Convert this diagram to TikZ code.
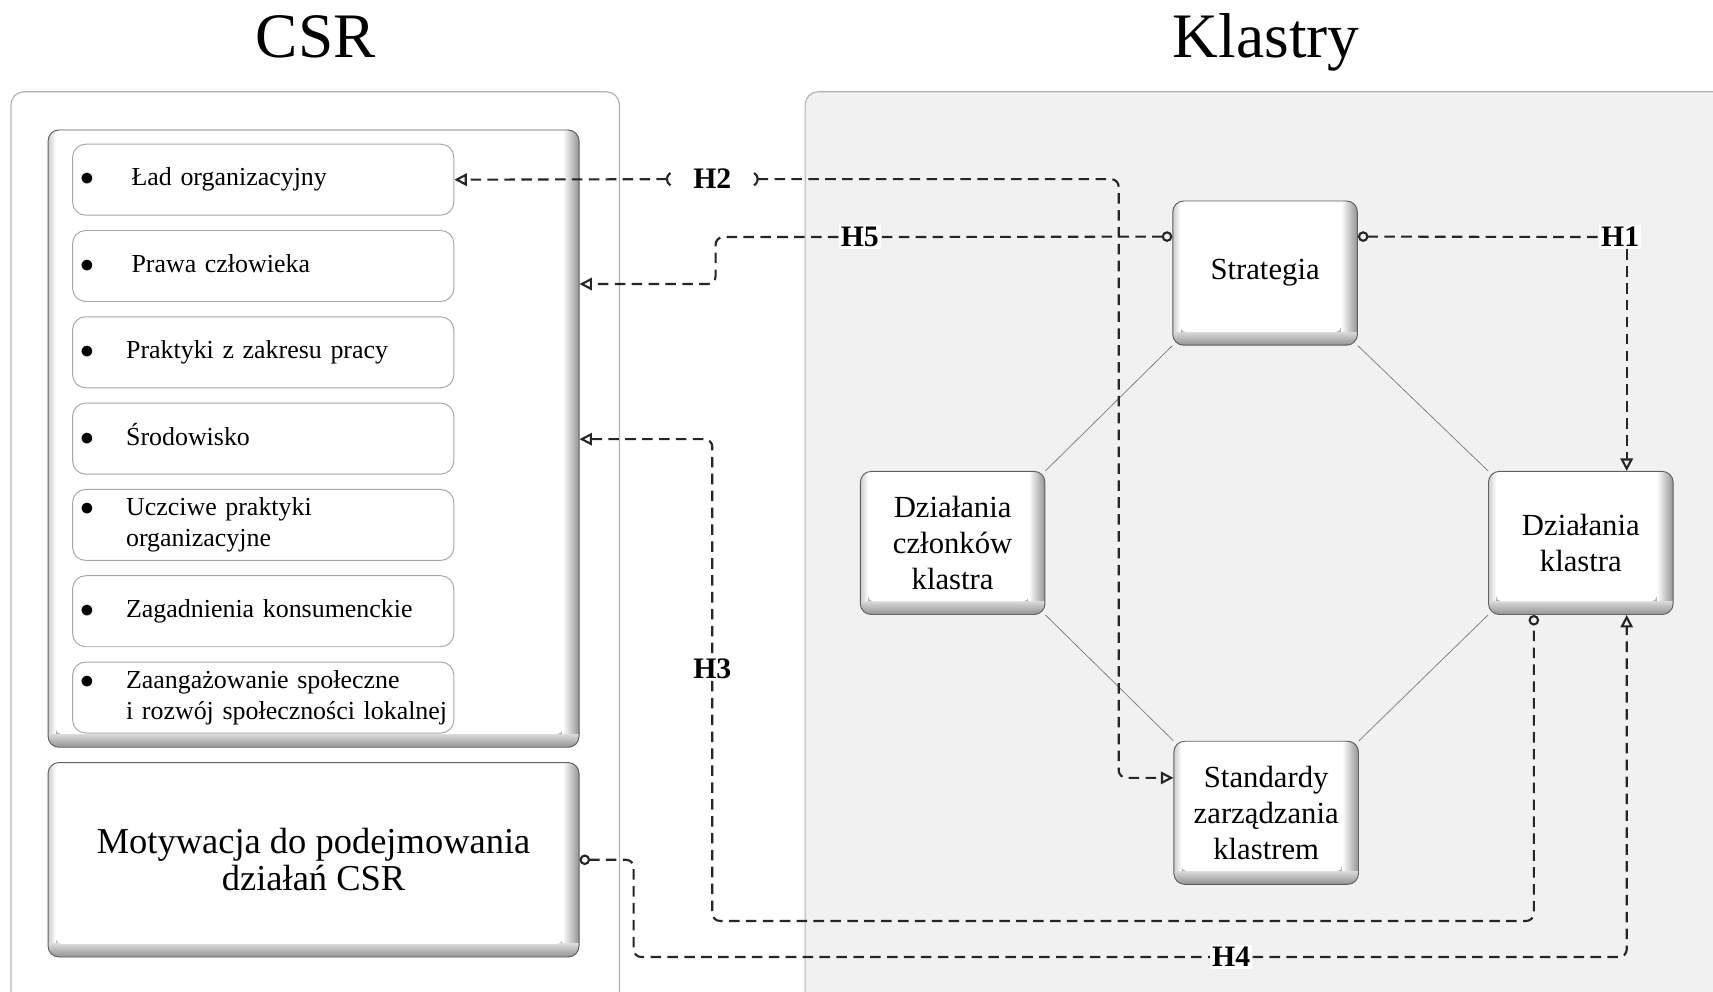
\documentclass[tikz,border=0pt]{standalone}
\usepackage{fontspec}
\setmainfont{Liberation Serif}
\usetikzlibrary{arrows.meta,calc}
\definecolor{klbg}{HTML}{F1F1F1}
\newcommand{\itm}[2][8.4mm]{\makebox[#1][l]{$\bullet$}\begin{tabular}[t]{@{}l@{}}#2\end{tabular}}
\tikzset{
  hyparr/.tip={Triangle[open,length=6.5pt,width=6.5pt]},
  hypcirc/.tip={Circle[open,length=5.5pt]},
  bevel/.style={draw=gray!75!black, line width=.5pt, rounded corners=2mm, fill=gray!65, align=center,
    font=\fontsize{16}{18.8}\selectfont,
    path picture={
      \coordinate (pA) at (path picture bounding box.south west);
      \coordinate (pB) at (path picture bounding box.north east);
      \shade[sharp corners, left color=white, right color=gray!85] ($(pB|-pA)+(-3mm,2.4mm)$) rectangle (pB);
      \shade[sharp corners, left color=gray!40, right color=white] ($(pA)+(0,2.4mm)$) rectangle ($(pA|-pB)+(1.4mm,0)$);
      \shade[sharp corners, top color=gray!30, bottom color=gray!85] (pA) rectangle ($(pB|-pA)+(0,2.4mm)$);
      \fill[white, rounded corners=1mm] ($(pA)+(1.4mm,2.4mm)$) rectangle ($(pB)+(-3mm,2mm)$);
    }},
  csritem/.style={draw=gray!70, line width=.5pt, rounded corners=2.4mm, fill=white, anchor=west,
    minimum width=69.8mm, minimum height=13mm, text width=67mm, inner xsep=1.4mm, inner ysep=0pt,
    align=left, font=\fontsize{13.5}{16}\selectfont},
  frame/.style={draw=gray!60, line width=.6pt, rounded corners=2.4mm},
  link/.style={draw=gray, line width=.4pt},
  hyp/.style={draw=black!85, line width=1.1pt, dash pattern=on 5.5pt off 3.3pt, rounded corners=1.4mm},
  hlab/.style={fill=white, inner sep=1pt, font=\fontsize{15.5}{18}\selectfont\bfseries},
  ttl/.style={anchor=base, font=\fontsize{33}{40}\selectfont}
}
\begin{document}
\begin{tikzpicture}[x=0.2mm, y=0.2mm]
\useasboundingbox (0,0) rectangle (1568,908);
\draw[frame, fill=white] (10,824) rectangle (567,-20);
\draw[frame, fill=klbg] (737,824) rectangle (1590,-20);
\node[ttl] (csrt) at (289,855) {CSR};
\node[ttl] (klt) at (1159,855) {Klastry};

\node[bevel, minimum width=97.2mm, minimum height=113mm] (csrbox) at (287,506.5) {};
\node[csritem] (lad) at (66,743.5) {\itm[9.4mm]{Ład organizacyjny}};
\node[csritem] (prawa) at (66,664.5) {\itm[9.4mm]{Prawa człowieka}};
\node[csritem] (prakt) at (66,585.5) {\itm{Praktyki z zakresu pracy}};
\node[csritem] (srod) at (66,506.5) {\itm{Środowisko}};
\node[csritem] (uczc) at (66,427.5) {\itm{Uczciwe praktyki\\organizacyjne}};
\node[csritem] (konsum) at (66,348.5) {\itm{Zagadnienia konsumenckie}};
\node[csritem] (zaang) at (66,269.5) {\itm{Zaangażowanie społeczne\\i rozwój społeczności lokalnej}};
\node[bevel, minimum width=97.2mm, minimum height=35.6mm, font=\fontsize{19}{19.4}\selectfont] (mot) at (287,121) {Motywacja do podejmowania\\działań CSR};

\node[bevel, minimum width=33.8mm, minimum height=26.4mm] (strat) at (1158,658) {Strategia};
\node[bevel, minimum width=33.8mm, minimum height=26.2mm] (dck) at (872,411) {Działania\\członków\\klastra};
\node[bevel, minimum width=33.8mm, minimum height=26.2mm] (dk) at (1447,411) {Działania\\klastra};
\node[bevel, minimum width=33.8mm, minimum height=26.2mm] (std) at (1159,164) {Standardy\\zarządzania\\klastrem};

\draw[link] (strat.south west) -- (dck.north east);
\draw[link] (strat.south east) -- (dk.north west);
\draw[link] (dck.south east) -- (std.north west);
\draw[link] (dk.south west) -- (std.north east);

\node[inner xsep=4mm, inner ysep=1pt, font=\fontsize{15.5}{18}\selectfont\bfseries] (h2) at (652,744) {H2};
\draw[hyp, {Parenthesis[reversed]}-hyparr] (h2.west) -- (lad.east);
\draw[hyp, {Parenthesis[reversed]}-hyparr] (h2.east) -- (1024,744) -- (1024,196) -- ($(std.north west)+(0,-34)$);

\node[hlab] (h5) at (787,691) {H5};
\draw[hyp, hypcirc-] ($(strat.north west)+(0,-33)$) -- (h5.east);
\draw[hyp, -hyparr] (h5.west) -- (655,691) -- (655,648) -- (csrbox.east |- 0,648);

\node[hlab] (h1) at (1483,691) {H1};
\draw[hyp, hypcirc-] ($(strat.north east)+(0,-33)$) -- (h1.west);
\draw[hyp, -hyparr] (h1.south -| 1489,0) -- ($(dk.north)+(42,0)$);

\node[hlab] (h3) at (652,296) {H3};
\draw[hyp, hyparr-] (csrbox.east |- 0,506) -- (652,506) -- (h3.north);
\draw[hyp, -hypcirc] (h3.south) -- (652,65) -- (1404,65) -- (dk.south -| 1404,0);

\node[hlab] (h4) at (1127,32) {H4};
\draw[hyp, hypcirc-] (mot.east) -- (580,121) -- (580,32) -- (h4.west);
\draw[hyp, -hyparr] (h4.east) -- (1489,32) -- ($(dk.south)+(42,0)$);
\end{tikzpicture}
\end{document}
